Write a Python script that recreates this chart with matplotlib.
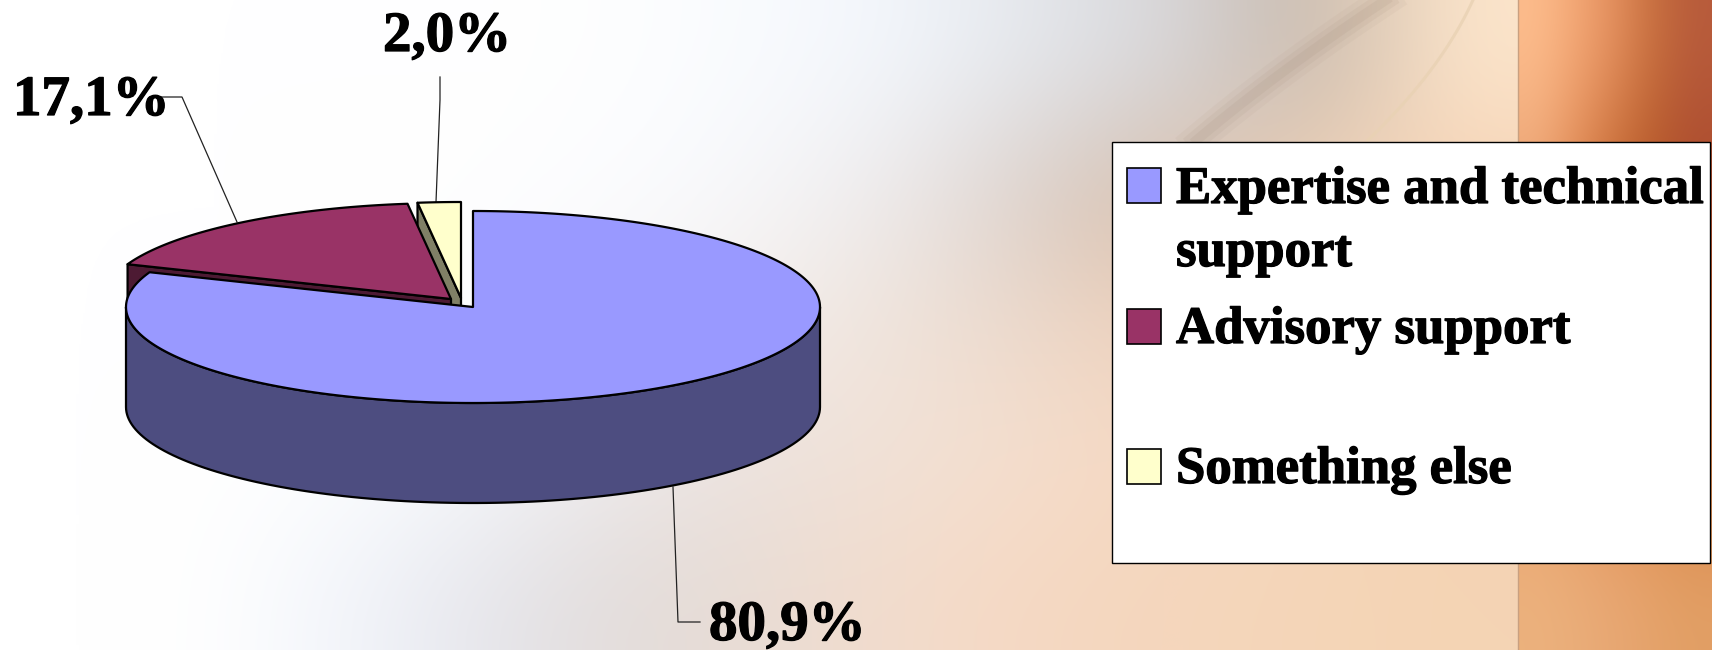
import matplotlib
matplotlib.use('Agg')
import matplotlib.pyplot as plt
import matplotlib.patheffects as pe
import numpy as np
from matplotlib.patches import Polygon, Rectangle

categories = ['Expertise and technical\nsupport', 'Advisory support', 'Something else']
values = [80.9, 17.1, 2.0]
value_labels = ['80,9%', '17,1%', '2,0%']
top_colors = ['#9999FF', '#993366', '#FFFFCC']
face_colors = ['#4D4D80', '#4D1A33', '#808066']

# backdrop colours on a coarse grid (columns every 152 px, rows every 162 px)
back_main = [
    ['#ffffff', '#ffffff', '#ffffff', '#ffffff', '#fdfeff', '#f9fbfe', '#f2f6fc', '#e4e7ec', '#d8d8dc', '#c4b5a8', '#fde6cc'],
    ['#ffffff', '#ffffff', '#ffffff', '#fefeff', '#fbfcff', '#f6f7fa', '#ece9ea', '#d9cdc6', '#d4baa6', '#f3d6bc', '#f6d2b4'],
    ['#ffffff', '#ffffff', '#ffffff', '#fbfcfe', '#f8f6f6', '#f3ece8', '#efe3da', '#ecd8ca', '#f0d2bc', '#f5d2b8', '#f4ceb0'],
    ['#ffffff', '#ffffff', '#fdfeff', '#f5f8fc', '#ede9ea', '#ece2dd', '#f2e2d7', '#f5decd', '#f5d8c2', '#f5d6bc', '#f4d2b4'],
    ['#ffffff', '#ffffff', '#f2f5fb', '#e6e6ec', '#e2dcda', '#e9dcd4', '#f3dccc', '#f5d8c2', '#f5d6bc', '#f5d6b8', '#f4d4b4'],
]
back_strip = [
    ['#fdbd8d', '#f4a876', '#e4905f', '#c8703f', '#b85c3c'],
    ['#e8a071', '#d9804a', '#bd6029', '#ae4f20', '#a8462a'],
    ['#e59a66', '#d98448', '#cf7238', '#c86a36', '#c46030'],
    ['#eaa06a', '#e6965e', '#e28c52', '#dd8448', '#d87e42'],
    ['#ecb27e', '#eaae7a', '#e8a874', '#e5a46c', '#e2a066'],
]
# the two soft streaks in the top right of the backdrop
dark_streak = ([1386, 1295, 1205], [0, 63, 133])
light_streak = ([1473, 1436, 1368], [0, 63, 140])

W, H = 1712, 650
CX, CY, RX, RY, DEPTH = 473, 307, 347, 96, 100
# exploded slices sit a little up and to the left
centers = [(CX, CY), (451, 299), (461, 298)]
heavy = [pe.withStroke(linewidth=0.9, foreground='black')]


def to_rgb(grid):
    return np.array([[matplotlib.colors.to_rgb(c) for c in row] for row in grid])


def ell(cx, cy, ang):
    a = np.radians(ang)
    return np.column_stack([cx + RX * np.cos(a), cy - RY * np.sin(a)])


fig = plt.figure(figsize=(W / 100, H / 100), dpi=100)
ax = fig.add_axes([0, 0, 1, 1])
ax.imshow(to_rgb(back_main), extent=[0, 1518, H, 0], interpolation='bicubic', aspect='auto', zorder=0)
ax.imshow(to_rgb(back_strip), extent=[1518, W, H, 0], interpolation='bicubic', aspect='auto', zorder=0)

yy = np.linspace(0, 140, 40)
xx = np.polyval(np.polyfit(dark_streak[1], dark_streak[0], 2), yy)
for lw, a in [(22, 0.07), (14, 0.10), (7, 0.12)]:
    ax.plot(xx, yy, color='#a08a78', lw=lw, alpha=a, zorder=1)
xx = np.polyval(np.polyfit(light_streak[1], light_streak[0], 2), yy)
ax.plot(xx, yy, color='#e9d2b4', lw=2.2, alpha=0.8, zorder=1)
ax.plot([1518, 1518], [0, H], color='#c9a080', lw=1, zorder=1)

# slice angles, clockwise from 12 o'clock
edges = 90 - np.cumsum([0] + values) * 3.6

edge = dict(edgecolor='black', linewidth=1.6, joinstyle='round')

# draw from back to front: yellow, maroon, then the big slice
for i in [2, 1]:
    cx, cy = centers[i]
    p0 = ell(cx, cy, np.array([edges[i]]))[0]
    face = [p0, (cx, cy), (cx, cy + DEPTH), (p0[0], p0[1] + DEPTH)]
    ax.add_patch(Polygon(face, facecolor=face_colors[i], zorder=3, **edge))
    arc = ell(cx, cy, np.linspace(edges[i + 1], edges[i], 60))
    ax.add_patch(Polygon(np.vstack([[(cx, cy)], arc]), facecolor=top_colors[i], zorder=3, **edge))

cx, cy = centers[0]
front = ell(cx, cy, np.linspace(180, 360, 120))
wall = np.vstack([front, (front + [0, DEPTH])[::-1]])
ax.add_patch(Polygon(wall, facecolor=face_colors[0], zorder=4, **edge))
arc = ell(cx, cy, np.linspace(edges[1], edges[0], 300))
ax.add_patch(Polygon(np.vstack([[(cx, cy)], arc]), facecolor=top_colors[0], zorder=4, **edge))

# value labels and leaders
leaders = [([673, 678, 700], [487, 622, 622]), ([237, 182, 161], [222, 97, 97]), ([436, 440, 440], [202, 100, 77])]
label_pos = [(709, 640), (13, 115), (383, 51)]
for lab, (lx, ly), (tx, ty) in zip(value_labels, leaders, label_pos):
    ax.plot(lx, ly, color='#222222', lw=0.9, zorder=2)
    ax.text(tx, ty, lab, family='Liberation Serif', weight='bold', fontsize=41, color='black',
            ha='left', va='baseline', zorder=6, path_effects=heavy)

# legend
ax.add_patch(Rectangle((1112, 142), 598.5, 421, facecolor='white', edgecolor='black', lw=1, zorder=5))
swatch_y = [168, 309, 449]
text_y = [203, 343, 483]
for name, col, sy0, ty0 in zip(categories, top_colors, swatch_y, text_y):
    ax.add_patch(Rectangle((1127, sy0), 34, 35, facecolor=col, edgecolor='black', lw=1.2, zorder=6))
    for n, line in enumerate(name.split('\n')):
        ax.text(1176, ty0 + 63 * n, line, family='Liberation Serif', weight='bold', fontsize=38,
                color='black', ha='left', va='baseline', zorder=6, path_effects=heavy)

ax.set_xlim(0, W)
ax.set_ylim(H, 0)
ax.axis('off')
fig.savefig('out.png', dpi=100)
